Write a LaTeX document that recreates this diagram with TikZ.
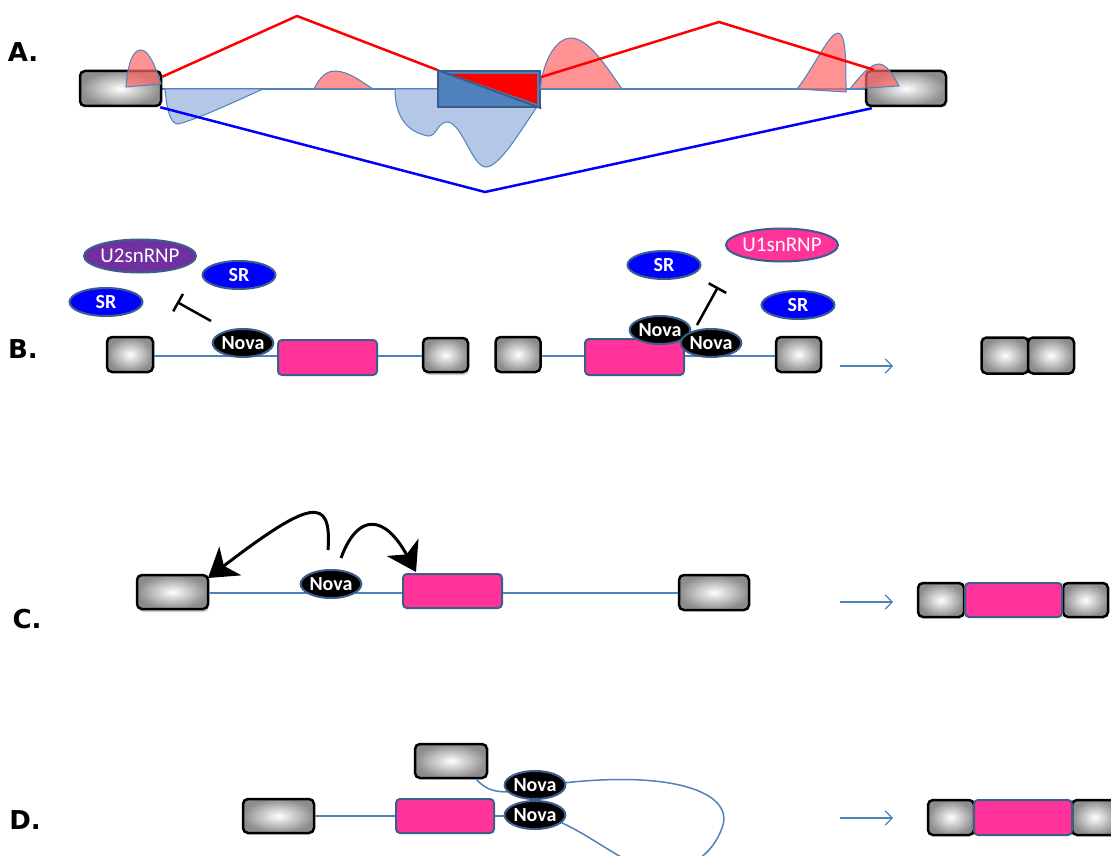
\documentclass[tikz,border=0pt]{standalone}
\usepackage{fontspec}
\setmainfont{Carlito}
\newfontfamily\labfont{DejaVu Sans}
\usetikzlibrary{shapes.geometric,arrows.meta,shadows,calc}
\definecolor{rnablue}{HTML}{4F81BD}
\definecolor{edgeblue}{HTML}{3A5F8B}
\definecolor{darkedge}{HTML}{385D8A}
\definecolor{exonpink}{HTML}{FF3399}
\definecolor{troughblue}{HTML}{B4C7E7}
\definecolor{peakred}{HTML}{FF6666}
\definecolor{srblue}{HTML}{0000FF}
\definecolor{uviolet}{HTML}{7030A0}
\begin{document}
\begin{tikzpicture}[x=1pt,y=-1pt,
  exon/.style={rectangle, rounded corners=5pt, draw=black, line width=2.5pt, inner color=white, outer color=black!45, inner sep=0pt},
  shadowed/.style={drop shadow={shadow xshift=1pt, shadow yshift=-3pt, opacity=0.3, fill=black!60}},
  pexon/.style={rectangle, rounded corners=4pt, draw=edgeblue, line width=2pt, fill=exonpink, inner sep=0pt},
  prot/.style={ellipse, draw=edgeblue, line width=2pt, inner sep=0pt, text=white},
  nova/.style={prot, fill=black, minimum width=60pt, minimum height=28pt, font=\bfseries\fontsize{20}{22}\selectfont},
  sr/.style={prot, fill=srblue, minimum width=73pt, minimum height=28pt, font=\bfseries\fontsize{20}{22}\selectfont},
  snrnp/.style={prot, minimum width=93pt, minimum height=33pt, font=\fontsize{21}{23}\selectfont},
  rna/.style={draw=rnablue, line width=1.5pt},
  peak/.style={fill=peakred, fill opacity=0.7, draw=rnablue, line width=1pt},
  trough/.style={fill=troughblue, draw=rnablue, line width=1pt},
  redline/.style={draw=red, line width=2.5pt},
  blueline/.style={draw=srblue, line width=2.5pt},
  result/.style={draw=rnablue, line width=1.2pt, -{Straight Barb[length=7pt,width=14pt,line width=1.2pt]}},
  bigarrow/.style={line width=3pt, -{Stealth[length=28pt,width=36pt,inset=8pt]}},
  inhib/.style={line width=2.5pt, -{Bar[width=20pt,line width=2.5pt]}},
  lab/.style={font=\labfont\bfseries\fontsize{26}{28}\selectfont, inner sep=0pt}
]
\useasboundingbox (0,0) rectangle (1111,856);
\clip (0,0) rectangle (1111,856);
\fill[white] (0,0) rectangle (1111,856);

% ---------------- Panel A ----------------
\node[lab] (labA) at (23,52) {A.};
\draw[rna] (161,89) -- (866,89);
% troughs
\draw[trough] (165,89) .. controls (167,112) and (171,124) .. (178,124)
  .. controls (195,120) and (230,104) .. (263,89) -- cycle;
\draw[trough] (395,89) .. controls (395,118) and (408,132) .. (428,136)
  .. controls (436,137) and (438,122) .. (447,122)
  .. controls (462,122) and (472,167) .. (486,167)
  .. controls (500,167) and (522,128) .. (537,107) -- (537,89) -- cycle;
% exons (drawn over troughs)
\node[exon, minimum width=81pt, minimum height=35pt] (ea1) at (120.5,88.5) {};
\node[exon, minimum width=80pt, minimum height=35pt] (ea2) at (906,88.5) {};
\node[rectangle, draw=darkedge, line width=2.5pt, fill=rnablue, minimum width=102pt, minimum height=36pt, inner sep=0pt] (ea3) at (489,89) {};
\fill[red] (451,74) -- (537,74) -- (537,104) -- cycle;
\draw[darkedge, line width=2pt] (ea3.north west) -- (ea3.south east);
% peaks
\draw[peak] (126,87) .. controls (128,62) and (133,50) .. (141,50)
  .. controls (149,50) and (156,68) .. (161,84) -- cycle;
\draw[peak] (314,89) .. controls (322,73) and (329,71) .. (336,71)
  .. controls (350,72) and (362,82) .. (373,89) -- cycle;
\draw[peak] (540,89) .. controls (544,56) and (558,38) .. (571,38)
  .. controls (588,38) and (606,66) .. (622,89) -- cycle;
\draw[peak] (797,89) .. controls (815,66) and (829,33) .. (838,33)
  .. controls (846,33) and (846,60) .. (846,92) -- cycle;
\draw[peak] (850,89) .. controls (860,76) and (870,64) .. (879,64)
  .. controls (887,64) and (894,77) .. (899,86) -- cycle;
% junction lines
\coordinate (rp1) at (297,16);
\coordinate (rp2) at (719,22);
\coordinate (bv) at (485,192);
\draw[redline] ($(ea1.north east)+(0,7)$) -- (rp1) -- (ea3.north west);
\draw[redline] ($(ea3.east)+(0,-12)$) -- (rp2) -- ($(ea2.north west)+(9,0)$);
\draw[blueline] ($(ea1.south east)+(-2,0)$) -- (bv) -- ($(ea2.south west)+(7,1)$);

% ---------------- Panel B ----------------
\node[lab] (labB) at (23,349) {B.};
\node[exon, minimum width=46pt, minimum height=35pt] (eB1) at (130,354.5) {};
\node[pexon, minimum width=99pt, minimum height=35pt] (pB1) at (327.5,357.5) {};
\node[exon, shadowed, minimum width=45pt, minimum height=34pt] (eB2) at (445.5,355) {};
\draw[rna] (eB1.east |- 0,356) -- (pB1.west |- 0,356);
\draw[rna] (pB1.east |- 0,356) -- (eB2.west |- 0,356);
\node[nova] (novaB) at (243,343) {Nova};
\node[snrnp, fill=uviolet] (u2) at (140,256) {U2snRNP};
\node[sr] (srB1) at (239,275) {\raisebox{-3pt}{SR}};
\node[sr] (srB2) at (106,302) {\raisebox{-3pt}{SR}};
\coordinate (tB1s) at (211,321);
\coordinate (tB1e) at (177,302);
\draw[inhib] (tB1s) -- (tB1e);

\node[exon, minimum width=45pt, minimum height=35pt] (eB3) at (518,354.5) {};
\node[pexon, minimum width=99pt, minimum height=36pt] (pB2) at (634.5,357) {};
\node[exon, minimum width=45pt, minimum height=35pt] (eB4) at (798.5,354.5) {};
\draw[rna] (eB3.east |- 0,356) -- (pB2.west |- 0,356);
\draw[rna] (pB2.east |- 0,356) -- (eB4.west |- 0,356);
\node[nova] (novaB1) at (660,330) {Nova};
\node[nova] (novaB2) at (711,343) {Nova};
\node[sr] (srB3) at (664,265) {\raisebox{-3pt}{SR}};
\node[snrnp, fill=exonpink] (u1) at (782,245) {U1snRNP};
\node[sr] (srB4) at (798,305) {\raisebox{-3pt}{SR}};
\coordinate (tB2s) at (697,325);
\coordinate (tB2e) at (718,287);
\draw[inhib] (tB2s) -- (tB2e);
\coordinate (rB1) at (840,366);
\coordinate (rB2) at (893,366);
\draw[result] (rB1) -- (rB2);
\node[exon, minimum width=47pt, minimum height=36pt] (eB5) at (1005,355.5) {};
\node[exon, minimum width=46pt, minimum height=36pt] (eB6) at (1051,355.5) {};

% ---------------- Panel C ----------------
\node[lab] (labC) at (27,619) {C.};
\node[exon, shadowed, minimum width=71pt, minimum height=34pt] (eC1) at (172.5,592) {};
\node[pexon, minimum width=99pt, minimum height=34pt] (pC1) at (452.5,591) {};
\node[exon, minimum width=70pt, minimum height=35pt] (eC2) at (714,592.5) {};
\draw[rna] (eC1.east |- 0,593) -- (pC1.west |- 0,593);
\draw[rna] (pC1.east |- 0,593) -- (eC2.west |- 0,593);
\node[nova] (novaC) at (331,584) {Nova};
\coordinate (a1s) at (328,550);
\coordinate (a1e) at (208,578);
\coordinate (a2s) at (341,558);
\coordinate (a2e) at (416,572);
\draw[bigarrow] (a1s) .. controls (332,495) and (310,500) .. (a1e);
\draw[bigarrow] (a2s) .. controls (358,512) and (385,515) .. (a2e);
\coordinate (rC1) at (840,602);
\coordinate (rC2) at (893,602);
\draw[result] (rC1) -- (rC2);
\node[exon, minimum width=46pt, minimum height=34pt] (eC3) at (941,600) {};
\node[exon, minimum width=45pt, minimum height=34pt] (eC4) at (1085.5,600) {};
\node[pexon, minimum width=97pt, minimum height=34pt] (pC2) at (1013.5,600) {};

% ---------------- Panel D ----------------
\node[lab] (labD) at (25,820) {D.};
\node[exon, minimum width=71pt, minimum height=34pt] (eD1) at (278.5,816) {};
\node[pexon, minimum width=98pt, minimum height=34pt] (pD1) at (445,816) {};
\node[exon, minimum width=72pt, minimum height=34pt] (eDup) at (451,761) {};
\draw[rna] (eD1.east |- 0,816) -- (pD1.west |- 0,816);
\draw[rna] ($(eDup.south east)+(-12,0)$) .. controls (486,790) and (495,792) .. (510,792);
\draw[rna] (pD1.east |- 0,816) -- (510,816);
\draw[rna] (563,783) .. controls (680,770) and (735,795) .. (722,828)
  .. controls (712,855) and (690,870) .. (660,870)
  .. controls (630,870) and (600,840) .. (560,822);
\node[nova, minimum width=59pt] (novaD1) at (535,785) {Nova};
\node[nova, minimum width=59pt] (novaD2) at (535,815) {Nova};
\coordinate (rD1) at (840,818);
\coordinate (rD2) at (893,818);
\draw[result] (rD1) -- (rD2);
\node[exon, minimum width=46pt, minimum height=35pt] (eD2) at (951,817.5) {};
\node[exon, minimum width=46pt, minimum height=35pt] (eD3) at (1095,817.5) {};
\node[pexon, minimum width=98pt, minimum height=35pt] (pD2) at (1023,817.5) {};
\end{tikzpicture}
\end{document}
